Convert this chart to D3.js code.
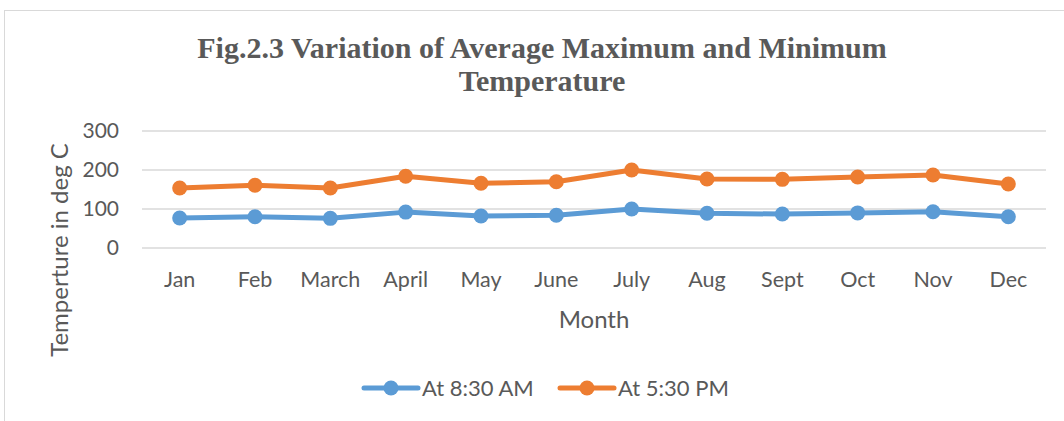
<!DOCTYPE html>
<html>
<head>
<meta charset="utf-8">
<script src="https://cdn.jsdelivr.net/npm/d3@7"></script>
<style>
  body { margin: 0; background: #fff; }
  text { fill: #595959; }
</style>
</head>
<body>
<svg id="chart"></svg>
<script>
// Chart data
var months = ["Jan", "Feb", "March", "April", "May", "June", "July", "Aug", "Sept", "Oct", "Nov", "Dec"];
var morning = [77, 80, 76, 92, 82, 84, 100, 89, 87, 90, 93, 80];
var evening = [154, 161, 154, 184, 166, 170, 200, 177, 176, 182, 187, 164];
var yTicks = [0, 100, 200, 300];
var seriesNames = ["At 8:30 AM", "At 5:30 PM"];
var colors = ["#5B9BD5", "#ED7D31"];

var W = 1064, H = 421;
var margin = { top: 131, right: 18, bottom: 173, left: 142 };
var width = W - margin.left - margin.right;
var height = H - margin.top - margin.bottom;
var labelFont = "Lato, 'Open Sans', sans-serif";

var svg = d3.select("#chart")
    .attr("width", W)
    .attr("height", H);

// Outer frame (only left and top edges show)
svg.append("rect")
    .attr("x", 4.5).attr("y", 10.5)
    .attr("width", 1100).attr("height", 500)
    .attr("fill", "none")
    .attr("stroke", "#d9d9d9");

// Title
var title = svg.append("text")
    .attr("text-anchor", "middle")
    .style("font-family", "'Liberation Serif', 'Times New Roman', serif")
    .style("font-weight", "bold")
    .style("font-size", "30px");
title.append("tspan").attr("x", 542).attr("y", 58).text("Fig.2.3 Variation of Average Maximum and Minimum");
title.append("tspan").attr("x", 542).attr("y", 91).text("Temperature");

var g = svg.append("g")
    .attr("transform", "translate(" + margin.left + "," + margin.top + ")");

var xScale = d3.scaleBand().domain(months).range([0, width]);
var yScale = d3.scaleLinear().domain([0, 300]).range([height, 0]);

// Gridlines
g.append("g")
    .selectAll("line")
    .data(yTicks)
    .enter()
    .append("line")
    .attr("x1", 0).attr("x2", width)
    .attr("y1", function(d) { return yScale(d); })
    .attr("y2", function(d) { return yScale(d); })
    .attr("stroke", "#d9d9d9")
    .attr("stroke-width", 1.3);

// Y axis labels
var yAxis = d3.axisLeft(yScale).tickValues(yTicks).tickSize(0).tickPadding(23);
g.append("g")
    .call(yAxis)
    .call(function(s) { s.select(".domain").remove(); })
    .selectAll("text")
    .style("font-family", labelFont)
    .style("font-size", "21px")
    .attr("fill", "#595959");

// X axis labels
var xAxis = d3.axisBottom(xScale).tickSize(0).tickPadding(24);
g.append("g")
    .attr("transform", "translate(0," + height + ")")
    .call(xAxis)
    .call(function(s) { s.select(".domain").remove(); })
    .selectAll("text")
    .style("font-family", labelFont)
    .style("font-size", "21.5px")
    .attr("fill", "#595959");

// Axis titles
svg.append("text")
    .attr("x", margin.left + width / 2)
    .attr("y", 328)
    .attr("text-anchor", "middle")
    .style("font-family", labelFont)
    .style("font-size", "24px")
    .text("Month");

svg.append("text")
    .attr("transform", "translate(68,250) rotate(-90)")
    .attr("text-anchor", "middle")
    .style("font-family", labelFont)
    .style("font-size", "24px")
    .text("Temperture in deg C");

// Lines and markers
var line = d3.line()
    .x(function(d, i) { return xScale(months[i]) + xScale.bandwidth() / 2; })
    .y(function(d) { return yScale(d); });

[morning, evening].forEach(function(series, k) {
    g.append("path")
        .datum(series)
        .attr("d", line)
        .attr("fill", "none")
        .attr("stroke", colors[k])
        .attr("stroke-width", 5)
        .attr("stroke-linejoin", "round");

    g.selectAll(".dot" + k)
        .data(series)
        .enter()
        .append("circle")
        .attr("class", "dot" + k)
        .attr("cx", function(d, i) { return xScale(months[i]) + xScale.bandwidth() / 2; })
        .attr("cy", function(d) { return yScale(d); })
        .attr("r", 7.5)
        .attr("fill", colors[k]);
});

// Legend
var legendX = [364, 560];
seriesNames.forEach(function(name, k) {
    var lg = svg.append("g").attr("transform", "translate(" + legendX[k] + ",388)");
    lg.append("line")
        .attr("x1", 0).attr("x2", 54)
        .attr("stroke", colors[k])
        .attr("stroke-width", 5)
        .attr("stroke-linecap", "round");
    lg.append("circle")
        .attr("cx", 27).attr("r", 7.5)
        .attr("fill", colors[k]);
    lg.append("text")
        .attr("x", 58).attr("y", 8)
        .style("font-family", labelFont)
        .style("font-size", "22px")
        .text(name);
});
</script>
</body>
</html>
